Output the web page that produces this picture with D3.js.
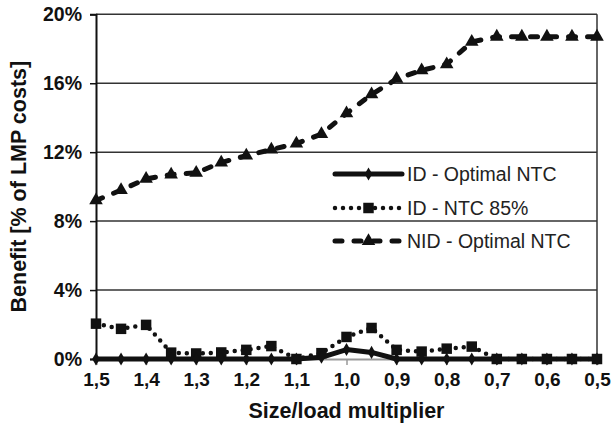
<!DOCTYPE html>
<html>
<head>
<meta charset="utf-8">
<script src="https://cdn.jsdelivr.net/npm/d3@7"></script>
<style>
  html, body { margin: 0; padding: 0; background: #fff; }
  svg { display: block; font-family: "Liberation Sans", Arial, sans-serif; }
</style>
</head>
<body>
<svg id="chart" width="611" height="431"></svg>
<script>
// Size/load multiplier categories (x axis, left to right)
const categories = ["1,5","1,45","1,4","1,35","1,3","1,25","1,2","1,15","1,1","1,05","1,0",
                    "0,95","0,9","0,85","0,8","0,75","0,7","0,65","0,6","0,55","0,5"];
const tickLabels = ["1,5","1,4","1,3","1,2","1,1","1,0","0,9","0,8","0,7","0,6","0,5"];
const yTicks = [0, 4, 8, 12, 16, 20];

// Benefit in % of LMP costs
const idOptimal = [0, 0, 0, 0, 0, 0, 0, 0, 0, 0.1, 0.55, 0.38, 0, 0, 0, 0, 0, 0, 0, 0, 0];
const idNtc85   = [2.05, 1.75, 1.98, 0.37, 0.32, 0.38, 0.53, 0.75, 0.0, 0.34, 1.28, 1.8,
                   0.53, 0.43, 0.6, 0.72, 0, 0, 0, 0, 0];
const nidOptimal = [9.2, 9.8, 10.45, 10.7, 10.8, 11.4, 11.8, 12.15, 12.5, 13.05, 14.25, 15.35,
                    16.25, 16.75, 17.1, 18.4, 18.7, 18.7, 18.7, 18.7, 18.7];

const seriesNames = ["ID - Optimal NTC", "ID - NTC 85%", "NID - Optimal NTC"];

const svg = d3.select("#chart");
const margin = { left: 96, right: 14, top: 14.3, bottom: 72 };
const W = 611, H = 431;
const ink = "#111";
const font = "'Liberation Sans', Arial, sans-serif";

const x = d3.scalePoint().domain(categories).range([margin.left, W - margin.right]);
const y = d3.scaleLinear().domain([0, 20]).range([H - margin.bottom, margin.top]);

// horizontal gridlines
svg.append("g").selectAll("line").data(yTicks.filter(d => d > 0)).join("line")
  .attr("x1", margin.left).attr("x2", W - margin.right)
  .attr("y1", d => y(d)).attr("y2", d => y(d))
  .attr("stroke", "#333").attr("stroke-width", 1.5);

// right border
svg.append("line")
  .attr("x1", W - margin.right).attr("x2", W - margin.right)
  .attr("y1", y(20)).attr("y2", y(0))
  .attr("stroke", "#333").attr("stroke-width", 1.5);

// x axis (grey line with ticks on labelled categories)
const xAxis = d3.axisBottom(x).tickValues(tickLabels).tickSize(6).tickPadding(8);
const gx = svg.append("g").attr("transform", `translate(0,${y(0)})`).call(xAxis);
gx.select(".domain").attr("stroke", "#999").attr("stroke-width", 2);
gx.selectAll(".tick line").attr("stroke", "#999").attr("stroke-width", 1.5);
gx.selectAll(".tick text").attr("fill", ink).attr("font-size", 19).attr("font-weight", "bold")
  .attr("font-family", font);

// y axis
const yAxis = d3.axisLeft(y).tickValues(yTicks).tickSize(6).tickPadding(8).tickFormat(d => d + "%");
const gy = svg.append("g").attr("transform", `translate(${margin.left},0)`).call(yAxis);
gy.select(".domain").attr("stroke", ink).attr("stroke-width", 2);
gy.selectAll(".tick line").attr("stroke", ink).attr("stroke-width", 1.5);
gy.selectAll(".tick text").attr("fill", ink).attr("font-size", 19.5).attr("font-weight", "bold")
  .attr("font-family", font);

// axis titles
svg.append("text")
  .attr("x", (margin.left + W - margin.right) / 2).attr("y", 418)
  .attr("text-anchor", "middle").attr("font-size", 21.5).attr("font-weight", "bold").attr("fill", ink)
  .text("Size/load multiplier");
svg.append("text")
  .attr("transform", `translate(26,${(y(0) + y(20)) / 2}) rotate(-90)`)
  .attr("text-anchor", "middle").attr("font-size", 21.5).attr("font-weight", "bold").attr("fill", ink)
  .text("Benefit [% of LMP costs]");

const line = d3.line().x((d, i) => x(categories[i])).y(d => y(d));

const series = [
  { name: seriesNames[2], values: nidOptimal, width: 5, dash: "7 12", symbol: d3.symbolTriangle, size: 80 },
  { name: seriesNames[1], values: idNtc85, width: 4.5, dash: "0 8", symbol: d3.symbolSquare, size: 110 },
  { name: seriesNames[0], values: idOptimal, width: 5, dash: null, symbol: d3.symbolDiamond, size: 50 }
];

series.forEach(s => {
  svg.append("path").datum(s.values)
    .attr("d", line).attr("fill", "none").attr("stroke", ink)
    .attr("stroke-width", s.width).attr("stroke-linecap", "round").attr("stroke-linejoin", "round")
    .attr("stroke-dasharray", s.dash);
  svg.append("g").selectAll("path").data(s.values).join("path")
    .attr("transform", (d, i) => `translate(${x(categories[i])},${y(d)})`)
    .attr("d", d3.symbol().type(s.symbol).size(s.size)).attr("fill", ink);
});

// legend
const legendRows = [
  { s: series[2], yPos: 174 },
  { s: series[1], yPos: 208 },
  { s: series[0], yPos: 241 }
];
const lx0 = 335, lx1 = 402;
legendRows.forEach(r => {
  const g = svg.append("g");
  g.append("line").attr("x1", lx0).attr("x2", lx1).attr("y1", r.yPos).attr("y2", r.yPos)
    .attr("stroke", ink).attr("stroke-width", r.s.width).attr("stroke-linecap", "round")
    .attr("stroke-dasharray", r.s.dash);
  g.append("path").attr("transform", `translate(${(lx0 + lx1) / 2},${r.yPos})`)
    .attr("d", d3.symbol().type(r.s.symbol).size(r.s.size)).attr("fill", ink);
  g.append("text").attr("x", 407).attr("y", r.yPos).attr("dy", "0.35em")
    .attr("font-size", 19.5).attr("font-family", font).attr("fill", "#222").text(r.s.name);
});
</script>
</body>
</html>
